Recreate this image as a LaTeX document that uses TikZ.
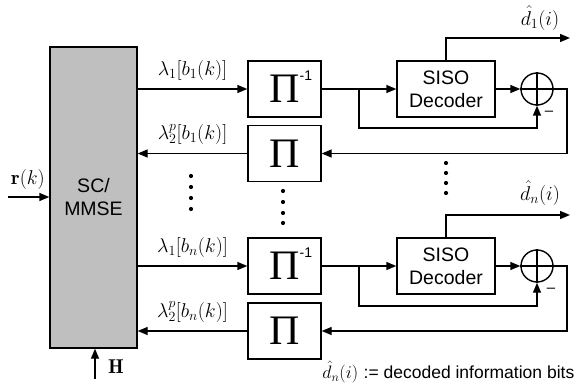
\RequirePackage{fix-cm}
\documentclass[tikz,border=0pt]{standalone}
\usepackage{fontspec}
\newfontfamily\arial{Liberation Sans}
\newfontfamily\tnr{Liberation Serif}
\usetikzlibrary{arrows.meta}
\newcommand{\PiBig}{{\tnr\fontsize{42}{42}\selectfont Π}}
\newcommand{\PiInv}{\PiBig\rlap{\smash{\raisebox{22pt}{\arial\fontsize{14}{14}\selectfont -1}}}}
\begin{document}
\begin{tikzpicture}[x=1pt,y=-1pt, line width=1.4pt,
  box/.style={draw, minimum width=73pt, minimum height=56pt, inner sep=0pt},
  dec/.style={draw, minimum width=98pt, minimum height=56pt, inner sep=0pt, align=center, font=\arial\fontsize{19.5}{23}\selectfont},
  sum/.style={draw, circle, minimum size=32pt, inner sep=0pt},
  arr/.style={-{Triangle[length=10pt,width=8pt]}},
  lab/.style={font=\fontsize{20}{20}\selectfont, inner sep=1pt},
  dot/.style={circle, fill, inner sep=0pt, minimum size=4.2pt, draw=none},
  minus/.style={font=\arial\fontsize{15}{15}\selectfont, inner sep=0pt}
]
\useasboundingbox (0,0) rectangle (576,385);

% SC/MMSE block
\node[draw, fill=black!25, minimum width=87pt, minimum height=301pt, inner sep=0pt,
      align=center, font=\arial\fontsize{19.5}{23}\selectfont] (mmse) at (93.5,197.5) {SC/\\MMSE};

% interleaver boxes
\node[box] (p1i) at (284.5,89) {\PiInv};
\node[box] (p1) at (284.5,153.5) {\PiBig};
\node[box] (pni) at (284.5,266) {\PiInv};
\node[box] (pn) at (284.5,331) {\PiBig};

% SISO decoders
\node[dec] (s1) at (446,89) {SISO\\Decoder};
\node[dec] (sn) at (446,266) {SISO\\Decoder};

% summers
\node[sum] (c1) at (537,89) {};
\node[sum] (cn) at (537,266) {};
\draw[line width=1.2pt] (c1.north) -- (c1.south) (c1.west) -- (c1.east);
\draw[line width=1.2pt] (cn.north) -- (cn.south) (cn.west) -- (cn.east);

% MMSE <-> interleavers
\draw[arr] (mmse.east |- p1i.west) -- node[lab, above=7pt] {$\lambda_1[b_1(k)]$} (p1i.west);
\draw[arr] (p1.west) -- node[lab, above=7pt] {$\lambda_2^p[b_1(k)]$} (mmse.east |- p1.west);
\draw[arr] (mmse.east |- pni.west) -- node[lab, above=7pt] {$\lambda_1[b_n(k)]$} (pni.west);
\draw[arr] (pn.west) -- node[lab, above=7pt] {$\lambda_2^p[b_n(k)]$} (mmse.east |- pn.west);

% user 1 loop
\coordinate (br1) at (359,89);
\coordinate (lp1) at (359,128);
\coordinate (fb1) at (567,89);
\coordinate (o1) at (570,38);
\draw[arr] (p1i.east) -- (s1.west);
\draw[arr] (br1) -- (lp1) -| (c1.south);
\draw[arr] (s1.east) -- (c1.west);
\draw[arr] (c1.east) -- (fb1) |- (p1.east);
\draw[arr] (s1.north) |- (o1);
\node[lab] (d1) at (540,18) {$\hat{d}_1(i)$};
\node[minus] (m1) at (549,113) {–};

% user n loop
\coordinate (brn) at (359,266);
\coordinate (lpn) at (359,306);
\coordinate (fbn) at (567,266);
\coordinate (on) at (570,215);
\draw[arr] (pni.east) -- (sn.west);
\draw[arr] (brn) -- (lpn) -| (cn.south);
\draw[arr] (sn.east) -- (cn.west);
\draw[arr] (cn.east) -- (fbn) |- (pn.east);
\draw[arr] (sn.north) |- (on);
\node[lab] (dn) at (540,193) {$\hat{d}_n(i)$};
\node[minus] (mn) at (551,290) {–};

% inputs
\coordinate (rin) at (8,197);
\draw[arr] (rin) -- (mmse.west |- rin);
\node[lab] (rk) at (28,180) {$\mathbf{r}(k)$};
\coordinate (hin) at (95,379);
\draw[arr] (hin) -- (mmse.south -| hin);
\node[lab] (hl) at (116,367) {$\mathbf{H}$};

% dots
\foreach \y [count=\i] in {176,187,198,209} \node[dot] (da\i) at (191,\y) {};
\foreach \y [count=\i] in {191,202,213,223} \node[dot] (db\i) at (283,\y) {};
\foreach \y [count=\i] in {163,173,183,193} \node[dot] (dc\i) at (446,\y) {};

% legend
\node[font=\fontsize{18}{18}\selectfont, anchor=east, inner sep=0pt] (legend) at (575,372)
  {$\hat{d}_n(i)$ {\arial\fontsize{17.5}{17.5}\selectfont := decoded information bits}};
\end{tikzpicture}
\end{document}
